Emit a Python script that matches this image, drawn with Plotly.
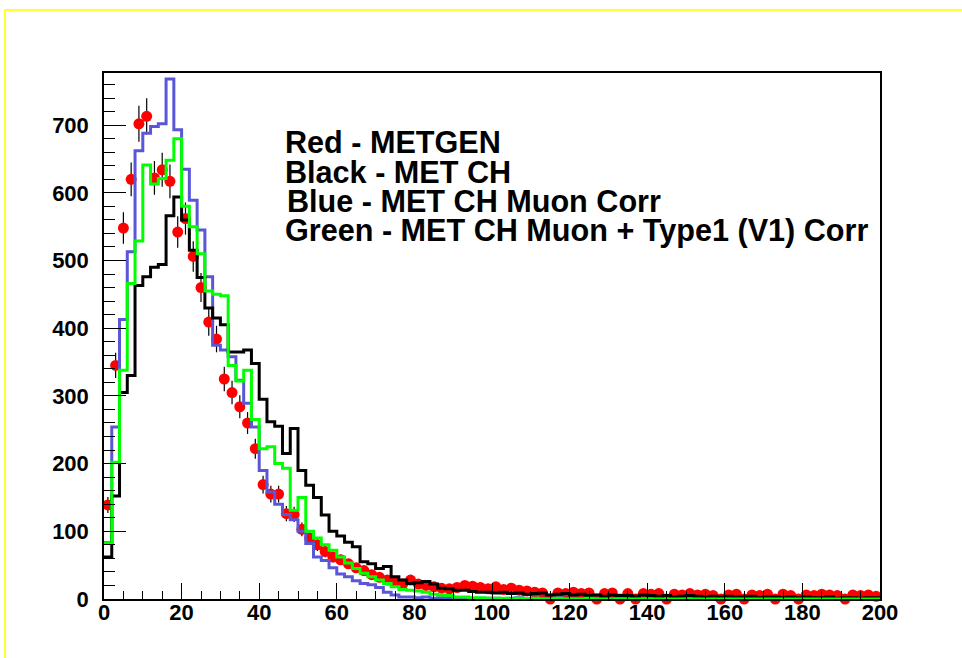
import numpy as np
import plotly.graph_objects as go

# Missing transverse energy spectra, 100 bins of 2 GeV from 0 to 200
bin_edges = np.arange(0, 202, 2)
bin_centres = bin_edges[:-1] + 1

met_gen = [
    139, 345, 548, 620, 702, 713, 622, 634, 617, 542,
    562, 506, 460, 409, 384, 325, 305, 284, 260, 222,
    169, 155, 155, 126, 125, 103, 90, 80, 70, 62,
    58, 52, 46, 42, 36, 32, 28, 25, 22, 28,
    22, 20, 18, 16, 15, 17, 20, 19, 17, 15,
    18, 14, 16, 13, 12, 10, 9, 0, 9, 8,
    10, 8, 9, 0, 8, 9, 0, 8, 0, 8,
    7, 8, 0, 7, 6, 8, 6, 7, 5, 0,
    6, 7, 0, 6, 5, 7, 0, 7, 5, 0,
    6, 5, 7, 6, 5, 0, 6, 5, 6, 4,
]

met_ch = [
    62, 152, 305, 330, 463, 476, 490, 494, 566, 594,
    560, 515, 475, 430, 415, 405, 365, 365, 368, 348,
    295, 262, 255, 215, 252, 190, 168, 150, 124, 100,
    93, 84, 77, 55, 52, 45, 48, 33, 28, 23,
    24, 26, 22, 16, 15, 13, 13, 11, 10, 10,
    9, 10, 8, 9, 7, 8, 9, 6, 7, 8,
    6, 7, 5, 6, 4, 6, 5, 5, 4, 6,
    5, 4, 5, 3, 4, 5, 4, 3, 4, 3,
    4, 3, 3, 4, 2, 3, 3, 2, 3, 2,
    3, 2, 2, 3, 1, 2, 2, 1, 2, 2,
]

met_ch_muon = [
    83, 254, 413, 513, 662, 688, 698, 702, 768, 693,
    635, 589, 545, 476, 375, 368, 358, 323, 289, 254,
    190, 158, 140, 125, 117, 100, 82, 62, 57, 46,
    37, 33, 27, 23, 21, 17, 10, 6, 3, 3,
    2, 3, 1, 2, 1, 1, 2, 0, 1, 1,
    1, 0, 1, 2, 0, 1, 1, 0, 2, 1,
    1, 0, 0, 1, 1, 0, 1, 0, 0, 1,
    0, 1, 0, 0, 0, 1, 0, 0, 1, 0,
    0, 0, 1, 0, 0, 0, 0, 1, 0, 0,
    0, 0, 0, 1, 0, 0, 0, 0, 0, 0,
]

met_ch_muon_type1 = [
    82, 202, 338, 466, 529, 641, 613, 621, 648, 680,
    580, 550, 510, 455, 450, 448, 345, 322, 338, 265,
    222, 225, 200, 193, 131, 150, 100, 90, 80, 72,
    62, 53, 45, 38, 33, 28, 23, 18, 14, 13,
    12, 10, 7, 6, 5, 3, 3, 2, 2, 1,
    1, 1, 0, 1, 0, 1, 0, 0, 1, 0,
    0, 0, 1, 0, 0, 0, 0, 0, 0, 0,
    0, 0, 0, 0, 0, 0, 0, 0, 0, 0,
    0, 0, 0, 0, 0, 0, 0, 0, 0, 0,
    0, 0, 0, 0, 0, 0, 0, 0, 0, 0,
]

legend_lines = [
    "Red - METGEN",
    "Black - MET CH",
    "Blue - MET CH Muon Corr",
    "Green - MET CH Muon + Type1 (V1) Corr",
]

X_RANGE = [0, 200]
Y_RANGE = [0, 777]

# Plot-frame geometry in pixels (canvas 962 x 658)
W, H = 962, 658
FL, FR, FT, FB = 104, 880, 73, 599


def px_to_paper(px, py):
    return (px - FL) / (FR - FL), (FB - py) / (FB - FT)


def step_trace(values, colour):
    return go.Scatter(
        x=bin_edges,
        y=list(values) + [values[-1]],
        mode="lines",
        line=dict(color=colour, width=3, shape="hv"),
        hoverinfo="skip",
        showlegend=False,
    )


fig = go.Figure()

# Generator-level MET: markers with Poisson error bars
fig.add_trace(go.Scatter(
    x=bin_centres,
    y=met_gen,
    mode="markers",
    marker=dict(color="#ff0000", size=11, symbol="circle"),
    error_y=dict(type="data", array=np.sqrt(met_gen), color="black",
                 thickness=1.2, width=0),
    cliponaxis=False,
    showlegend=False,
))

fig.add_trace(step_trace(met_ch_muon, "#5a56d8"))
fig.add_trace(step_trace(met_ch, "#000000"))
fig.add_trace(step_trace(met_ch_muon_type1, "#00ff00"))

tick_font = dict(family="Liberation Sans", size=22, color="black", weight="bold")
axis_common = dict(
    showgrid=False,
    zeroline=False,
    showline=True,
    linecolor="black",
    linewidth=1.5,
    mirror=True,
    ticks="inside",
    tickcolor="black",
    tickwidth=1,
    tickfont=tick_font,
)

fig.update_xaxes(
    range=X_RANGE, tick0=0, dtick=20, ticklen=16,
    minor=dict(dtick=5, ticklen=8, ticks="inside", tickcolor="black", tickwidth=1),
    ticklabelstandoff=-7,
    **axis_common,
)
fig.update_yaxes(
    range=Y_RANGE, tick0=0, dtick=100, ticklen=22,
    minor=dict(dtick=20, ticklen=11, ticks="inside", tickcolor="black", tickwidth=1),
    ticklabelstandoff=9,
    **axis_common,
)

# Text block listing the colour code of each spectrum
line_y = [142, 172, 201, 230]
line_x = [283, 283, 285, 283]
for text, px, py in zip(legend_lines, line_x, line_y):
    ax, ay = px_to_paper(px, py)
    fig.add_annotation(
        x=ax, y=ay, xref="paper", yref="paper",
        xanchor="left", yanchor="middle",
        text=text, showarrow=False,
        font=dict(family="Liberation Sans", size=30.6, color="black", weight="bold"),
    )

# Canvas border
bx0, by0 = px_to_paper(5, 720)
bx1, by1 = px_to_paper(1000, 10)
fig.add_shape(type="rect", xref="paper", yref="paper",
              x0=bx0, y0=by0, x1=bx1, y1=by1,
              line=dict(color="#ffff33", width=2), layer="below")

fig.update_layout(
    width=W, height=H,
    margin=dict(l=FL, r=W - FR, t=FT, b=H - FB, pad=0),
    paper_bgcolor="white",
    plot_bgcolor="white",
    showlegend=False,
)

fig.write_html("out.html")
